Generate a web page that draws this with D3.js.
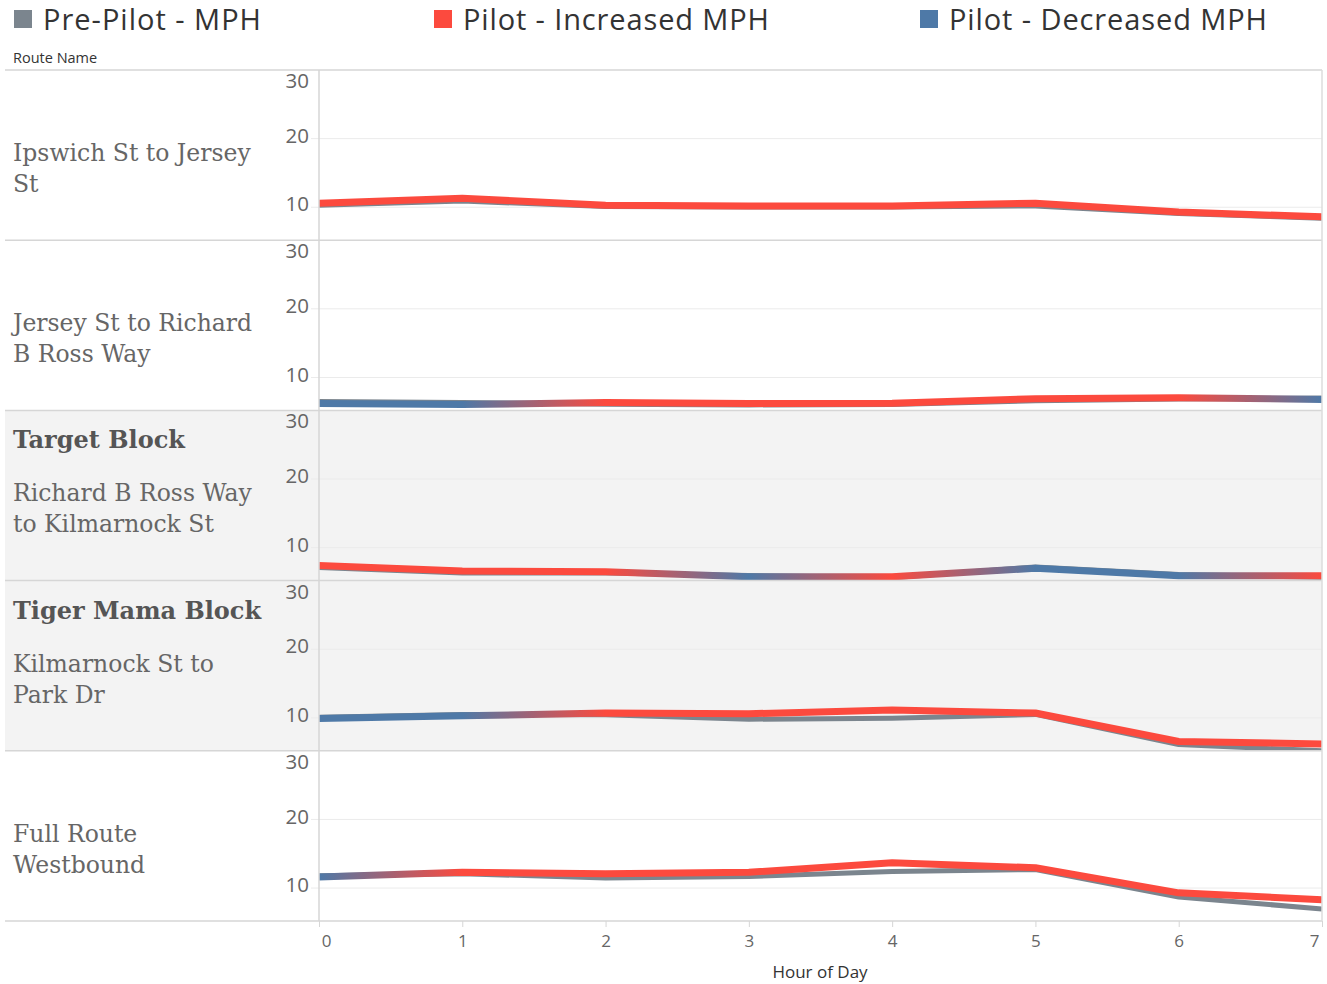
<!DOCTYPE html>
<html>
<head>
<meta charset="utf-8">
<script src="https://cdn.jsdelivr.net/npm/d3@7"></script>
<style>
  body { margin: 0; background: #fff; }
  svg { display: block; }
</style>
</head>
<body>
<div id="chart"></div>
<script>
// Speed by hour of day, pre-pilot vs pilot, one panel per route segment

const hours = [0, 1, 2, 3, 4, 5, 6, 7];
const routeHeaders = ["", "", "Target Block", "Tiger Mama Block", ""];
const routeLabels = [
  ["Ipswich St to Jersey", "St"],
  ["Jersey St to Richard", "B Ross Way"],
  ["Richard B Ross Way", "to Kilmarnock St"],
  ["Kilmarnock St to", "Park Dr"],
  ["Full Route", "Westbound"]
];
const prePilot = [
  [10.3, 10.9, 10.1, 10.05, 10.05, 10.2, 9.1, 8.4],
  [6.5, 6.35, 6.1, 6.0, 6.05, 6.6, 6.85, 7.0],
  [7.1, 6.3, 6.3, 5.95, 5.6, 7.2, 6.1, 5.7],
  [10.1, 10.5, 10.45, 9.8, 9.95, 10.5, 6.1, 5.2],
  [11.8, 12.1, 11.45, 11.7, 12.4, 12.7, 8.7, 6.95]
];
const pilot = [
  [10.6, 11.3, 10.3, 10.2, 10.2, 10.6, 9.3, 8.6],
  [6.2, 6.05, 6.35, 6.2, 6.25, 6.9, 7.05, 6.8],
  [7.4, 6.6, 6.5, 5.75, 5.75, 7.0, 5.9, 5.9],
  [9.9, 10.3, 10.7, 10.6, 11.15, 10.7, 6.55, 6.2],
  [11.6, 12.3, 12.1, 12.3, 13.7, 12.95, 9.3, 8.3]
];
const shadedRows = [false, false, true, true, false];
const yTicks = [10, 20, 30];
const legendItems = ["Pre-Pilot - MPH", "Pilot - Increased MPH", "Pilot - Decreased MPH"];

const width = 1327, height = 984;
const left = 5, plotLeft = 319, plotRight = 1322;
const top0 = 70, panelH = 170.2;
const grayCol = "#7b858e", redCol = "#fc4a3e", blueCol = "#4e79a7";
const serif = "'DejaVu Serif', serif";
const sans = "'Open Sans', sans-serif";

const svg = d3.select("#chart").append("svg")
  .attr("width", width)
  .attr("height", height);

// legend
const legendX = [14, 434, 920];
const legendW = [218, 306, 318];
const legendColors = [grayCol, redCol, blueCol];
const lg = svg.append("g");
legendItems.forEach((t, i) => {
  lg.append("rect")
    .attr("x", legendX[i]).attr("y", 10)
    .attr("width", 18).attr("height", 18)
    .attr("fill", legendColors[i]);
  lg.append("text")
    .attr("x", legendX[i] + 29).attr("y", 30)
    .attr("font-family", sans)
    .attr("font-size", 29)
    .attr("fill", "#333")
    .attr("textLength", legendW[i])
    .text(t);
});

svg.append("text")
  .attr("x", 13).attr("y", 63)
  .attr("font-family", sans)
  .attr("font-size", 14.5)
  .attr("fill", "#333")
  .text("Route Name");

const x = d3.scaleLinear().domain([0, 7]).range([plotLeft, plotRight]);
const y = d3.scaleLinear().domain([5.2, 30]).range([panelH, 0]);

const defs = svg.append("defs");

pilot.forEach((vals, r) => {
  const top = top0 + r * panelH;
  const g = svg.append("g").attr("transform", `translate(0,${top})`);

  if (shadedRows[r]) {
    g.append("rect")
      .attr("x", left).attr("y", 0)
      .attr("width", plotRight - left).attr("height", panelH)
      .attr("fill", "#f3f3f3");
  }

  // gridlines
  g.append("g")
    .selectAll("line")
    .data([10, 20])
    .join("line")
    .attr("x1", plotLeft - 8).attr("x2", plotRight)
    .attr("y1", d => y(d)).attr("y2", d => y(d))
    .attr("stroke", "#ebebeb")
    .attr("stroke-width", 1);

  // y axis
  const ya = g.append("g")
    .attr("transform", `translate(${plotLeft},0)`)
    .call(d3.axisLeft(y).tickValues(yTicks).tickSize(0).tickPadding(10));
  ya.select(".domain").remove();
  ya.selectAll("text")
    .attr("font-family", sans)
    .attr("font-size", 20.5)
    .attr("fill", "#666")
    .attr("dy", d => d === 30 ? "0.85em" : "0.18em");

  // route labels
  if (routeHeaders[r]) {
    g.append("text")
      .attr("x", 13).attr("y", 38)
      .attr("font-family", serif)
      .attr("font-weight", "bold")
      .attr("font-size", 24)
      .attr("fill", "#555")
      .text(routeHeaders[r]);
  }
  routeLabels[r].forEach((line, j) => {
    g.append("text")
      .attr("x", 13).attr("y", 91 + j * 31)
      .attr("font-family", serif)
      .attr("font-size", 23.5)
      .attr("fill", "#666")
      .text(line);
  });

  const clipId = "clip" + r;
  defs.append("clipPath").attr("id", clipId)
    .append("rect")
    .attr("x", plotLeft).attr("y", 0)
    .attr("width", plotRight - plotLeft).attr("height", panelH);

  // gradient for pilot line: red where pilot above pre-pilot, blue where below
  const gradId = "grad" + r;
  const grad = defs.append("linearGradient")
    .attr("id", gradId)
    .attr("gradientUnits", "userSpaceOnUse")
    .attr("x1", x(0)).attr("x2", x(7))
    .attr("y1", 0).attr("y2", 0);
  hours.forEach((h, i) => {
    grad.append("stop")
      .attr("offset", i / (hours.length - 1))
      .attr("stop-color", vals[i] >= prePilot[r][i] ? redCol : blueCol);
  });

  const line = d3.line()
    .x((d, i) => x(hours[i]))
    .y(d => y(d));

  const lines = g.append("g").attr("clip-path", `url(#${clipId})`);
  lines.append("path")
    .attr("d", line(prePilot[r]))
    .attr("fill", "none")
    .attr("stroke", grayCol)
    .attr("stroke-width", 5)
    .attr("stroke-linejoin", "round");
  lines.append("path")
    .attr("d", line(vals))
    .attr("fill", "none")
    .attr("stroke", `url(#${gradId})`)
    .attr("stroke-width", 7)
    .attr("stroke-linejoin", "round");

  // panel top border
  g.append("line")
    .attr("x1", left).attr("x2", plotRight)
    .attr("y1", 0).attr("y2", 0)
    .attr("stroke", "#d6d6d6")
    .attr("stroke-width", 1.5);
});

const bottom = top0 + 5 * panelH;

svg.append("line")
  .attr("x1", left).attr("x2", plotRight)
  .attr("y1", bottom).attr("y2", bottom)
  .attr("stroke", "#d6d6d6").attr("stroke-width", 1.5);
svg.append("line")
  .attr("x1", plotLeft).attr("x2", plotLeft)
  .attr("y1", top0).attr("y2", bottom)
  .attr("stroke", "#d6d6d6").attr("stroke-width", 1.5);
svg.append("line")
  .attr("x1", plotRight).attr("x2", plotRight)
  .attr("y1", top0).attr("y2", bottom)
  .attr("stroke", "#dcdcdc").attr("stroke-width", 1.5);

// x axis
const xa = svg.append("g")
  .attr("transform", `translate(0,${bottom})`)
  .call(d3.axisBottom(x).tickValues(hours).tickFormat(d3.format("d")).tickSize(6).tickPadding(8));
xa.select(".domain").remove();
xa.selectAll(".tick line").attr("stroke", "#d6d6d6");
xa.selectAll("text")
  .attr("font-family", sans)
  .attr("font-size", 17)
  .attr("fill", "#666")
  .attr("dx", d => d === 0 ? 7 : d === 7 ? -8 : 0);

svg.append("text")
  .attr("x", 820).attr("y", 978)
  .attr("text-anchor", "middle")
  .attr("font-family", sans)
  .attr("font-size", 17)
  .attr("fill", "#333")
  .text("Hour of Day");
</script>
</body>
</html>
